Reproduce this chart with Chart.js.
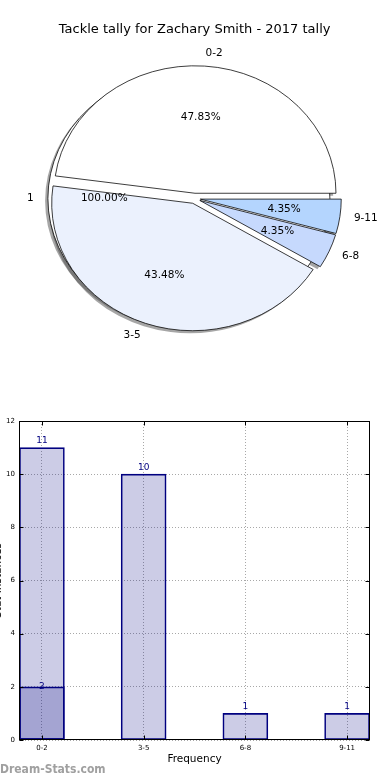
<!DOCTYPE html>
<html>
<head>
<meta charset="utf-8">
<script src="https://cdn.jsdelivr.net/npm/chart.js@4.4.1/dist/chart.umd.min.js"></script>
<style>
  body { margin: 0; background: #fff; width: 390px; height: 780px; position: relative; overflow: hidden; }
  #pieChart { position: absolute; left: 0; top: 0; }
  #barChart { position: absolute; left: 0; top: 400px; }
  #mark { position: absolute; left: 0; top: 762px; font: bold 12px "DejaVu Sans Condensed", "DejaVu Sans"; color: #a0a0a0; }
</style>
</head>
<body>
<canvas id="pieChart" width="390" height="400"></canvas>
<canvas id="barChart" width="390" height="380"></canvas>
<div id="mark">Dream-Stats.com</div>
<script>
// data
const chartTitle = 'Tackle tally for Zachary Smith - 2017 tally';
const freqLabels = ['0-2', '3-5', '6-8', '9-11'];
const freqValues = [11, 10, 1, 1];
const overlayLabels = ['1'];
const overlayValues = [2];
const pieColors = ['#ffffff', '#ebf1fd', '#c6d9fd', '#b4d5fe'];
const yTicks = [0, 2, 4, 6, 8, 10, 12];
const xAxisTitle = 'Frequency';
const yAxisTitle = 'Stat Instances';

Chart.defaults.font.family = '"DejaVu Sans", sans-serif';

// pie look: ellipse, exploded wedges, drop shadow
const PIE_R = 141;
const PIE_K = 0.904;
const EXPLODE = 5.7;
const SHADOW = 2.8;

const piePlugin = {
    id: 'piePlugin',
    afterDatasetsUpdate(chart) {
        const a = chart.chartArea;
        chart.$center = { x: (a.left + a.right) / 2, y: (a.top + a.bottom) / 2 };
        chart.data.datasets.forEach((ds, di) => {
            chart.getDatasetMeta(di).data.forEach(arc => {
                const m = (arc.startAngle + arc.endAngle) / 2;
                arc.x = chart.$center.x + Math.cos(m) * EXPLODE;
                arc.y = chart.$center.y + Math.sin(m) * EXPLODE;
                arc.innerRadius = 0;
                arc.outerRadius = PIE_R;
            });
        });
    },
    beforeDatasetsDraw(chart) {
        const ctx = chart.ctx;
        const c = chart.$center;
        ctx.save();
        ctx.translate(c.x, c.y);
        ctx.scale(1, -PIE_K);
        ctx.translate(-c.x, -c.y);
        ctx.fillStyle = 'rgba(77,77,77,0.5)';
        chart.data.datasets.forEach((ds, di) => {
            chart.getDatasetMeta(di).data.forEach(arc => {
                ctx.beginPath();
                ctx.moveTo(arc.x - SHADOW, arc.y - SHADOW);
                ctx.arc(arc.x - SHADOW, arc.y - SHADOW, arc.outerRadius, arc.startAngle, arc.endAngle);
                ctx.closePath();
                ctx.fill();
            });
        });
    },
    beforeDatasetDraw(chart, args) {
        // outline of the full-circle wedge, without a radial seam
        if (args.index !== 0) return;
        const ctx = chart.ctx;
        ctx.save();
        ctx.strokeStyle = '#000';
        ctx.lineWidth = 0.8;
        chart.getDatasetMeta(1).data.forEach(arc => {
            ctx.beginPath();
            ctx.arc(arc.x, arc.y, arc.outerRadius, 0, Math.PI * 2);
            ctx.stroke();
        });
        ctx.restore();
    },
    afterDatasetsDraw(chart) {
        const ctx = chart.ctx;
        ctx.restore();
        const c = chart.$center;
        const toScreen = (x, y) => ({ x: x, y: c.y - PIE_K * (y - c.y) });
        ctx.save();
        ctx.font = '10.5px "DejaVu Sans"';
        ctx.fillStyle = '#000';
        ctx.textBaseline = 'middle';
        chart.data.datasets.forEach((ds, di) => {
            const labels = di === 0 ? freqLabels : overlayLabels;
            const total = ds.data.reduce((s, v) => s + v, 0);
            chart.getDatasetMeta(di).data.forEach((arc, i) => {
                const m = (arc.startAngle + arc.endAngle) / 2;
                const cs = Math.cos(m), sn = Math.sin(m);
                const p = toScreen(arc.x + cs * PIE_R * 1.1, arc.y + sn * PIE_R * 1.1);
                ctx.textAlign = cs < 0 ? 'right' : 'left';
                ctx.fillText(labels[i], p.x, p.y);
                const q = toScreen(arc.x + cs * PIE_R * 0.6, arc.y + sn * PIE_R * 0.6);
                ctx.textAlign = 'center';
                ctx.fillText((ds.data[i] / total * 100).toFixed(2) + '%', q.x, q.y);
            });
        });
        ctx.restore();
    }
};

new Chart(document.getElementById('pieChart'), {
    type: 'pie',
    data: {
        labels: freqLabels,
        datasets: [{
            data: freqValues,
            backgroundColor: pieColors,
            borderColor: '#000',
            borderWidth: 0.8,
            clip: false
        }, {
            data: overlayValues,
            backgroundColor: ['#ffffff'],
            borderWidth: 0,
            clip: false
        }]
    },
    options: {
        responsive: false,
        animation: false,
        rotation: 90,
        layout: { padding: { top: 0, right: 0.8, bottom: 40.8, left: 0 } },
        plugins: {
            legend: { display: false },
            tooltip: { enabled: false },
            title: {
                display: true,
                text: chartTitle,
                color: '#000',
                font: { size: 13, weight: 'normal' },
                padding: { top: 22, bottom: 0 }
            }
        }
    },
    plugins: [piePlugin]
});

// bar chart: frame, inner ticks, value labels, clipped y title
const barPlugin = {
    id: 'barPlugin',
    afterDatasetsDraw(chart) {
        const { ctx, chartArea: a, scales: { x, y } } = chart;
        ctx.save();
        ctx.font = '9px "DejaVu Sans"';
        ctx.fillStyle = '#000080';
        ctx.textAlign = 'center';
        ctx.textBaseline = 'alphabetic';
        chart.data.datasets.forEach((ds, di) => {
            chart.getDatasetMeta(di).data.forEach((bar, i) => {
                ctx.fillText(String(ds.data[i].y), bar.x, bar.y + (di === 0 ? -4.5 : 2.5));
            });
        });

        ctx.strokeStyle = '#000';
        ctx.lineWidth = 1;
        const l = Math.round(a.left) + 0.5, r = Math.round(a.right) - 0.5;
        const t = Math.round(a.top) + 0.5, b = Math.round(a.bottom) - 0.5;
        ctx.strokeRect(l, t, r - l, b - t);
        ctx.beginPath();
        x.ticks.forEach(tk => {
            const px = Math.round(x.getPixelForValue(tk.value)) + 0.5;
            ctx.moveTo(px, b); ctx.lineTo(px, b - 4);
            ctx.moveTo(px, t); ctx.lineTo(px, t + 4);
        });
        y.ticks.forEach(tk => {
            const py = Math.round(y.getPixelForValue(tk.value)) + 0.5;
            ctx.moveTo(l, py); ctx.lineTo(l + 4, py);
            ctx.moveTo(r, py); ctx.lineTo(r - 4, py);
        });
        ctx.stroke();

        ctx.translate(1, (a.top + a.bottom) / 2);
        ctx.rotate(-Math.PI / 2);
        ctx.font = '10.5px "DejaVu Sans"';
        ctx.fillStyle = '#000';
        ctx.fillText(yAxisTitle, 0, 0);
        ctx.restore();
    }
};

const gridStyle = { color: '#a8a8a8', lineWidth: 1, drawTicks: false, offset: false };
const borderStyle = { display: false, dash: [1, 2] };

new Chart(document.getElementById('barChart'), {
    type: 'bar',
    data: {
        datasets: [{
            data: freqValues.map((v, i) => ({ x: i, y: v })),
            backgroundColor: 'rgba(0,0,128,0.2)',
            borderColor: '#000080',
            borderWidth: 1,
            borderSkipped: false,
            barThickness: 45,
            grouped: false
        }, {
            data: overlayValues.map((v, i) => ({ x: i, y: v })),
            backgroundColor: 'rgba(0,0,128,0.2)',
            borderColor: '#000080',
            borderWidth: 1,
            borderSkipped: false,
            barThickness: 45,
            grouped: false
        }]
    },
    options: {
        responsive: false,
        animation: false,
        layout: { padding: { top: 21, right: 20, bottom: 0, left: 0 } },
        plugins: {
            legend: { display: false },
            tooltip: { enabled: false }
        },
        scales: {
            x: {
                type: 'linear',
                offset: false,
                min: -0.225,
                max: 3.225,
                afterBuildTicks: s => { s.ticks = freqLabels.map((_, i) => ({ value: i })); },
                afterFit: s => { s.height = 40; },
                ticks: {
                    callback: v => freqLabels[v],
                    font: { size: 7 },
                    color: '#000',
                    padding: 4,
                    maxRotation: 0,
                    autoSkip: false
                },
                grid: gridStyle,
                border: borderStyle,
                title: {
                    display: true,
                    text: xAxisTitle,
                    color: '#000',
                    font: { size: 10.5 },
                    padding: { top: 0, bottom: 14 }
                }
            },
            y: {
                min: 0,
                max: 12,
                afterBuildTicks: s => { s.ticks = yTicks.map(v => ({ value: v })); },
                afterFit: s => { s.width = 19; },
                ticks: { font: { size: 7 }, color: '#000', padding: 4 },
                grid: gridStyle,
                border: borderStyle
            }
        }
    },
    plugins: [barPlugin]
});
</script>
</body>
</html>
